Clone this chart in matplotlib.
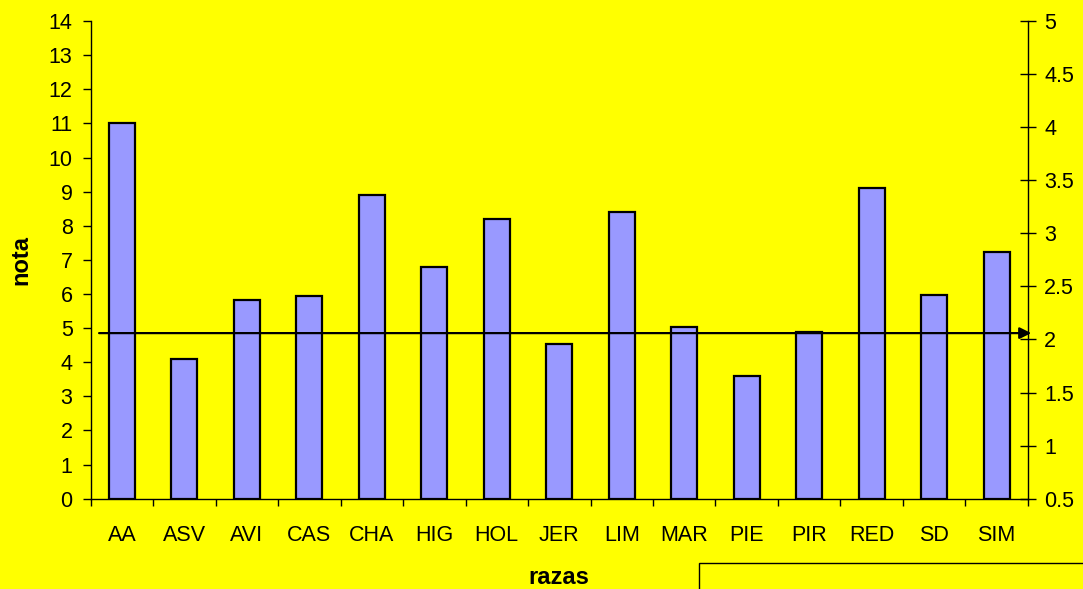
import matplotlib.pyplot as plt
from matplotlib.patches import Rectangle
import numpy as np

razas = ["AA", "ASV", "AVI", "CAS", "CHA", "HIG", "HOL", "JER",
         "LIM", "MAR", "PIE", "PIR", "RED", "SD", "SIM"]
nota = [11.0, 4.09, 5.81, 5.93, 8.89, 6.79, 8.19, 4.52,
        8.41, 5.02, 3.60, 4.88, 9.11, 5.98, 7.22]
nivel = 2.06  # reference line, right-hand scale

left_ticks = np.arange(0, 15, 1)
right_ticks = [0.5, 1, 1.5, 2, 2.5, 3, 3.5, 4, 4.5, 5]
right_labels = ["0.5", "1", "1.5", "2", "2.5", "3", "3.5", "4", "4.5", "5"]

plt.rcParams['font.family'] = ['Liberation Sans', 'DejaVu Sans']
amarillo = "#FFFF00"

fig = plt.figure(figsize=(10.83, 5.89), dpi=100, facecolor=amarillo)
ax = fig.add_axes([0.0837, 0.1533, 0.8654, 0.811])
ax.set_facecolor(amarillo)

x = np.arange(len(razas))
ax.bar(x, nota, width=0.42, color="#9999FF", edgecolor="black", linewidth=1.6, zorder=2)

ax.set_xlim(-0.5, len(razas) - 0.5)
ax.set_ylim(0, 14)
ax.set_yticks(left_ticks)
ax.set_xticks(x)
ax.set_xticklabels(razas)
ax.set_xticks(np.arange(-0.5, len(razas), 1), minor=True)
ax.tick_params(axis="x", which="major", length=0, pad=19, labelsize=15.5)
ax.tick_params(axis="x", which="minor", length=5, width=1, direction="out")
ax.tick_params(axis="y", length=6, width=1, direction="out", pad=7, labelsize=15.5)

for s in ["top", "right"]:
    ax.spines[s].set_visible(False)
ax.spines["left"].set_linewidth(1)
ax.spines["bottom"].set_linewidth(1)

ax.set_xlabel("razas", fontsize=17, fontweight="bold", labelpad=14)
ax.set_ylabel("nota", fontsize=17, fontweight="bold", labelpad=12)

ax2 = ax.twinx()
ax2.set_ylim(0.5, 5)
ax2.set_yticks(right_ticks)
ax2.set_yticklabels(right_labels)
ax2.tick_params(axis="y", length=11.5, width=1, direction="inout", pad=6, labelsize=15.5)
for s in ["top", "left", "bottom"]:
    ax2.spines[s].set_visible(False)
ax2.spines["right"].set_linewidth(1)

# horizontal reference line with arrow head
ax2.annotate("", xy=(1.0035, nivel), xytext=(0.009, nivel),
             xycoords=("axes fraction", "data"), textcoords=("axes fraction", "data"),
             arrowprops=dict(arrowstyle="-|>", color="black", lw=1.6,
                             mutation_scale=17, shrinkA=0, shrinkB=0),
             annotation_clip=False, zorder=5)

# empty legend frame at the bottom right
fig.patches.append(Rectangle((698.7 / 1083, -0.05), 0.4, (589 - 563) / 589 + 0.05,
                             transform=fig.transFigure, facecolor=amarillo,
                             edgecolor="black", linewidth=1))

fig.savefig("out.png", dpi=100, facecolor=amarillo)
